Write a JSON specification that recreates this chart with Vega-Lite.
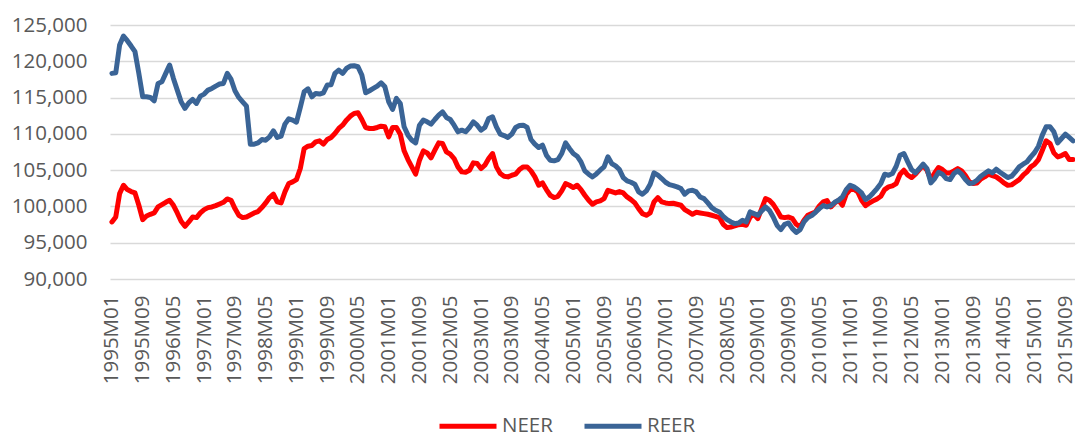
{
"$schema": "https://vega.github.io/schema/vega-lite/v6.json",
"width": 965, "height": 254,
"autosize": "none",
"padding": {"left": 110, "top": 25, "right": 0, "bottom": 156},
"background": "white",
"config": {"view": {"stroke": null}, "font": "Open Sans"},
"data": {"values": [
{"m":"1995M01","NEER":97860,"REER":118330},{"m":"1995M02","NEER":98550,"REER":118420},{"m":"1995M03","NEER":101770,"REER":122240},{"m":"1995M04","NEER":102920,"REER":123480},{"m":"1995M05","NEER":102320,"REER":122840},{"m":"1995M06","NEER":102050,"REER":122100},{"m":"1995M07","NEER":101860,"REER":121320},{"m":"1995M08","NEER":100160,"REER":118330},{"m":"1995M09","NEER":98180,"REER":115110},{"m":"1995M10","NEER":98690,"REER":115110},{"m":"1995M11","NEER":98920,"REER":115020},{"m":"1995M12","NEER":99100,"REER":114560},
{"m":"1996M01","NEER":99930,"REER":116950},{"m":"1996M02","NEER":100250,"REER":117180},{"m":"1996M03","NEER":100570,"REER":118330},{"m":"1996M04","NEER":100850,"REER":119480},{"m":"1996M05","NEER":100160,"REER":117640},{"m":"1996M06","NEER":99100,"REER":116030},{"m":"1996M07","NEER":97950,"REER":114420},{"m":"1996M08","NEER":97260,"REER":113500},{"m":"1996M09","NEER":97860,"REER":114280},{"m":"1996M10","NEER":98550,"REER":114740},{"m":"1996M11","NEER":98460,"REER":114190},{"m":"1996M12","NEER":99100,"REER":115200},
{"m":"1997M01","NEER":99560,"REER":115480},{"m":"1997M02","NEER":99840,"REER":116030},{"m":"1997M03","NEER":99930,"REER":116260},{"m":"1997M04","NEER":100110,"REER":116580},{"m":"1997M05","NEER":100340,"REER":116860},{"m":"1997M06","NEER":100570,"REER":116950},{"m":"1997M07","NEER":101030,"REER":118330},{"m":"1997M08","NEER":100850,"REER":117500},{"m":"1997M09","NEER":99700,"REER":115940},{"m":"1997M10","NEER":98780,"REER":115020},{"m":"1997M11","NEER":98460,"REER":114420},{"m":"1997M12","NEER":98550,"REER":113820},
{"m":"1998M01","NEER":98830,"REER":108580},{"m":"1998M02","NEER":99100,"REER":108580},{"m":"1998M03","NEER":99290,"REER":108760},{"m":"1998M04","NEER":99840,"REER":109220},{"m":"1998M05","NEER":100480,"REER":109130},{"m":"1998M06","NEER":101220,"REER":109590},{"m":"1998M07","NEER":101680,"REER":110420},{"m":"1998M08","NEER":100620,"REER":109500},{"m":"1998M09","NEER":100480,"REER":109680},{"m":"1998M10","NEER":102000,"REER":111340},{"m":"1998M11","NEER":103150,"REER":112070},{"m":"1998M12","NEER":103380,"REER":111890},
{"m":"1999M01","NEER":103700,"REER":111610},{"m":"1999M02","NEER":105220,"REER":113640},{"m":"1999M03","NEER":107980,"REER":115800},{"m":"1999M04","NEER":108300,"REER":116210},{"m":"1999M05","NEER":108390,"REER":115110},{"m":"1999M06","NEER":108900,"REER":115570},{"m":"1999M07","NEER":109040,"REER":115480},{"m":"1999M08","NEER":108580,"REER":115660},{"m":"1999M09","NEER":109220,"REER":116720},{"m":"1999M10","NEER":109500,"REER":116770},{"m":"1999M11","NEER":110050,"REER":118330},{"m":"1999M12","NEER":110740,"REER":118790},
{"m":"2000M01","NEER":111200,"REER":118330},{"m":"2000M02","NEER":111890,"REER":119020},{"m":"2000M03","NEER":112440,"REER":119340},{"m":"2000M04","NEER":112810,"REER":119390},{"m":"2000M05","NEER":112900,"REER":119250},{"m":"2000M06","NEER":111980,"REER":118100},{"m":"2000M07","NEER":110880,"REER":115660},{"m":"2000M08","NEER":110740,"REER":115940},{"m":"2000M09","NEER":110740,"REER":116260},{"m":"2000M10","NEER":110880,"REER":116580},{"m":"2000M11","NEER":111060,"REER":117040},{"m":"2000M12","NEER":110970,"REER":116490},
{"m":"2001M01","NEER":109590,"REER":114420},{"m":"2001M02","NEER":110880,"REER":113360},{"m":"2001M03","NEER":110880,"REER":114880},{"m":"2001M04","NEER":109960,"REER":114190},{"m":"2001M05","NEER":107660,"REER":110970},{"m":"2001M06","NEER":106460,"REER":109820},{"m":"2001M07","NEER":105450,"REER":109130},{"m":"2001M08","NEER":104440,"REER":108760},{"m":"2001M09","NEER":106370,"REER":111200},{"m":"2001M10","NEER":107660,"REER":111890},{"m":"2001M11","NEER":107380,"REER":111660},{"m":"2001M12","NEER":106690,"REER":111340},
{"m":"2002M01","NEER":107750,"REER":111980},{"m":"2002M02","NEER":108760,"REER":112580},{"m":"2002M03","NEER":108670,"REER":113040},{"m":"2002M04","NEER":107520,"REER":112260},{"m":"2002M05","NEER":107200,"REER":111980},{"m":"2002M06","NEER":106600,"REER":111200},{"m":"2002M07","NEER":105450,"REER":110280},{"m":"2002M08","NEER":104760,"REER":110510},{"m":"2002M09","NEER":104710,"REER":110280},{"m":"2002M10","NEER":104990,"REER":110880},{"m":"2002M11","NEER":106000,"REER":111660},{"m":"2002M12","NEER":105910,"REER":111200},
{"m":"2003M01","NEER":105220,"REER":110510},{"m":"2003M02","NEER":105680,"REER":110880},{"m":"2003M03","NEER":106600,"REER":112120},{"m":"2003M04","NEER":107290,"REER":112350},{"m":"2003M05","NEER":105450,"REER":110970},{"m":"2003M06","NEER":104530,"REER":109960},{"m":"2003M07","NEER":104160,"REER":109770},{"m":"2003M08","NEER":104070,"REER":109500},{"m":"2003M09","NEER":104300,"REER":109960},{"m":"2003M10","NEER":104440,"REER":110880},{"m":"2003M11","NEER":105080,"REER":111150},{"m":"2003M12","NEER":105450,"REER":111200},
{"m":"2004M01","NEER":105450,"REER":110880},{"m":"2004M02","NEER":104900,"REER":109220},{"m":"2004M03","NEER":104070,"REER":108580},{"m":"2004M04","NEER":102920,"REER":108120},{"m":"2004M05","NEER":103240,"REER":108440},{"m":"2004M06","NEER":102320,"REER":107060},{"m":"2004M07","NEER":101540,"REER":106370},{"m":"2004M08","NEER":101220,"REER":106280},{"m":"2004M09","NEER":101400,"REER":106460},{"m":"2004M10","NEER":102140,"REER":107290},{"m":"2004M11","NEER":103150,"REER":108760},{"m":"2004M12","NEER":102920,"REER":107980},
{"m":"2005M01","NEER":102600,"REER":107290},{"m":"2005M02","NEER":102920,"REER":106920},{"m":"2005M03","NEER":102320,"REER":106140},{"m":"2005M04","NEER":101540,"REER":104900},{"m":"2005M05","NEER":100850,"REER":104440},{"m":"2005M06","NEER":100300,"REER":104070},{"m":"2005M07","NEER":100620,"REER":104480},{"m":"2005M08","NEER":100760,"REER":104990},{"m":"2005M09","NEER":101080,"REER":105450},{"m":"2005M10","NEER":102230,"REER":106830},{"m":"2005M11","NEER":102050,"REER":105910},{"m":"2005M12","NEER":101860,"REER":105590},
{"m":"2006M01","NEER":102050,"REER":105080},{"m":"2006M02","NEER":101860,"REER":103980},{"m":"2006M03","NEER":101310,"REER":103520},{"m":"2006M04","NEER":100940,"REER":103330},{"m":"2006M05","NEER":100480,"REER":103060},{"m":"2006M06","NEER":99700,"REER":102000},{"m":"2006M07","NEER":99010,"REER":101680},{"m":"2006M08","NEER":98780,"REER":102140},{"m":"2006M09","NEER":99100,"REER":103060},{"m":"2006M10","NEER":100620,"REER":104620},{"m":"2006M11","NEER":101220,"REER":104300},{"m":"2006M12","NEER":100620,"REER":103840},
{"m":"2007M01","NEER":100480,"REER":103330},{"m":"2007M02","NEER":100390,"REER":103010},{"m":"2007M03","NEER":100440,"REER":102870},{"m":"2007M04","NEER":100300,"REER":102690},{"m":"2007M05","NEER":100160,"REER":102460},{"m":"2007M06","NEER":99560,"REER":101680},{"m":"2007M07","NEER":99240,"REER":102140},{"m":"2007M08","NEER":98920,"REER":102230},{"m":"2007M09","NEER":99190,"REER":102000},{"m":"2007M10","NEER":99100,"REER":101310},{"m":"2007M11","NEER":99010,"REER":101080},{"m":"2007M12","NEER":98920,"REER":100480},
{"m":"2008M01","NEER":98780,"REER":99840},{"m":"2008M02","NEER":98640,"REER":99470},{"m":"2008M03","NEER":98460,"REER":99240},{"m":"2008M04","NEER":97540,"REER":98640},{"m":"2008M05","NEER":97080,"REER":98180},{"m":"2008M06","NEER":97170,"REER":97860},{"m":"2008M07","NEER":97310,"REER":97630},{"m":"2008M08","NEER":97490,"REER":97720},{"m":"2008M09","NEER":97540,"REER":98090},{"m":"2008M10","NEER":97400,"REER":97860},{"m":"2008M11","NEER":98550,"REER":99240},{"m":"2008M12","NEER":98920,"REER":99010},
{"m":"2009M01","NEER":98320,"REER":98780},{"m":"2009M02","NEER":99700,"REER":99380},{"m":"2009M03","NEER":101080,"REER":99930},{"m":"2009M04","NEER":100850,"REER":99470},{"m":"2009M05","NEER":100300,"REER":98550},{"m":"2009M06","NEER":99470,"REER":97400},{"m":"2009M07","NEER":98550,"REER":96800},{"m":"2009M08","NEER":98460,"REER":97540},{"m":"2009M09","NEER":98550,"REER":97720},{"m":"2009M10","NEER":98320,"REER":96940},{"m":"2009M11","NEER":97540,"REER":96430},{"m":"2009M12","NEER":97170,"REER":96800},
{"m":"2010M01","NEER":98090,"REER":97860},{"m":"2010M02","NEER":98780,"REER":98460},{"m":"2010M03","NEER":99010,"REER":98730},{"m":"2010M04","NEER":99240,"REER":99190},{"m":"2010M05","NEER":100070,"REER":99700},{"m":"2010M06","NEER":100620,"REER":100110},{"m":"2010M07","NEER":100800,"REER":99930},{"m":"2010M08","NEER":99930,"REER":100110},{"m":"2010M09","NEER":100480,"REER":100570},{"m":"2010M10","NEER":100850,"REER":100850},{"m":"2010M11","NEER":100160,"REER":101310},{"m":"2010M12","NEER":101680,"REER":102320},
{"m":"2011M01","NEER":102320,"REER":102920},{"m":"2011M02","NEER":102370,"REER":102690},{"m":"2011M03","NEER":102000,"REER":102320},{"m":"2011M04","NEER":100850,"REER":101860},{"m":"2011M05","NEER":100110,"REER":100940},{"m":"2011M06","NEER":100480,"REER":101310},{"m":"2011M07","NEER":100760,"REER":101860},{"m":"2011M08","NEER":101030,"REER":102460},{"m":"2011M09","NEER":101400,"REER":103150},{"m":"2011M10","NEER":102320,"REER":104440},{"m":"2011M11","NEER":102690,"REER":104300},{"m":"2011M12","NEER":102830,"REER":104530},
{"m":"2012M01","NEER":103150,"REER":105540},{"m":"2012M02","NEER":104440,"REER":107060},{"m":"2012M03","NEER":104990,"REER":107290},{"m":"2012M04","NEER":104300,"REER":106140},{"m":"2012M05","NEER":103980,"REER":105080},{"m":"2012M06","NEER":104440,"REER":104620},{"m":"2012M07","NEER":105080,"REER":105220},{"m":"2012M08","NEER":105630,"REER":105820},{"m":"2012M09","NEER":104990,"REER":105220},{"m":"2012M10","NEER":103700,"REER":103240},{"m":"2012M11","NEER":104620,"REER":103840},{"m":"2012M12","NEER":105360,"REER":104710},
{"m":"2013M01","NEER":105080,"REER":104440},{"m":"2013M02","NEER":104620,"REER":103840},{"m":"2013M03","NEER":104620,"REER":103700},{"m":"2013M04","NEER":104900,"REER":104530},{"m":"2013M05","NEER":105220,"REER":104900},{"m":"2013M06","NEER":104900,"REER":104440},{"m":"2013M07","NEER":104250,"REER":103700},{"m":"2013M08","NEER":103380,"REER":103150},{"m":"2013M09","NEER":103150,"REER":103240},{"m":"2013M10","NEER":103240,"REER":103610},{"m":"2013M11","NEER":103790,"REER":104160},{"m":"2013M12","NEER":104070,"REER":104530},
{"m":"2014M01","NEER":104440,"REER":104900},{"m":"2014M02","NEER":104250,"REER":104620},{"m":"2014M03","NEER":104070,"REER":105130},{"m":"2014M04","NEER":103700,"REER":104710},{"m":"2014M05","NEER":103240,"REER":104350},{"m":"2014M06","NEER":102920,"REER":103980},{"m":"2014M07","NEER":102970,"REER":104160},{"m":"2014M08","NEER":103330,"REER":104760},{"m":"2014M09","NEER":103700,"REER":105450},{"m":"2014M10","NEER":104300,"REER":105820},{"m":"2014M11","NEER":104760,"REER":106140},{"m":"2014M12","NEER":105450,"REER":106830},
{"m":"2015M01","NEER":105820,"REER":107430},{"m":"2015M02","NEER":106460,"REER":108300},{"m":"2015M03","NEER":107750,"REER":109820},{"m":"2015M04","NEER":109040,"REER":110970},{"m":"2015M05","NEER":108670,"REER":110970},{"m":"2015M06","NEER":107380,"REER":110280},{"m":"2015M07","NEER":106830,"REER":108760},{"m":"2015M08","NEER":107010,"REER":109360},{"m":"2015M09","NEER":107290,"REER":109960},{"m":"2015M10","NEER":106460,"REER":109500},{"m":"2015M11","NEER":106460,"REER":109040}
]},
"transform": [{"fold": ["NEER", "REER"], "as": ["series", "value"]}],
"mark": {"type": "line", "strokeWidth": 5, "strokeCap": "round", "strokeJoin": "round"},
"encoding": {
  "x": {"field": "m", "type": "ordinal", "scale": {"type": "point", "padding": 0.5},
    "axis": {"values": ["1995M01","1995M09","1996M05","1997M01","1997M09","1998M05","1999M01","1999M09","2000M05","2001M01","2001M09","2002M05","2003M01","2003M09","2004M05","2005M01","2005M09","2006M05","2007M01","2007M09","2008M05","2009M01","2009M09","2010M05","2011M01","2011M09","2012M05","2013M01","2013M09","2014M05","2015M01","2015M09"],
      "labelAngle": -90, "labelFontSize": 20.5, "labelColor": "#595959", "labelPadding": 16, "labelOverlap": false, "ticks": false, "domain": false, "grid": false, "title": null}},
  "y": {"field": "value", "type": "quantitative", "scale": {"domain": [90000, 125000], "nice": false, "zero": false},
    "axis": {"values": [90000, 95000, 100000, 105000, 110000, 115000, 120000, 125000], "format": ",.0f", "labelFontSize": 20.5, "labelColor": "#595959", "labelPadding": 23, "ticks": false, "domain": false, "gridColor": "#d9d9d9", "gridWidth": 1.5, "title": null}},
  "color": {"field": "series", "type": "nominal", "scale": {"domain": ["NEER", "REER"], "range": ["#ff0000", "#3a6496"]},
    "legend": {"orient": "none", "legendX": 327, "legendY": 370, "direction": "horizontal", "title": null, "symbolType": "stroke", "symbolSize": 3249, "symbolStrokeWidth": 5, "labelFontSize": 20.5, "labelColor": "#595959", "labelOffset": 3, "columnPadding": 21}}
}
}
